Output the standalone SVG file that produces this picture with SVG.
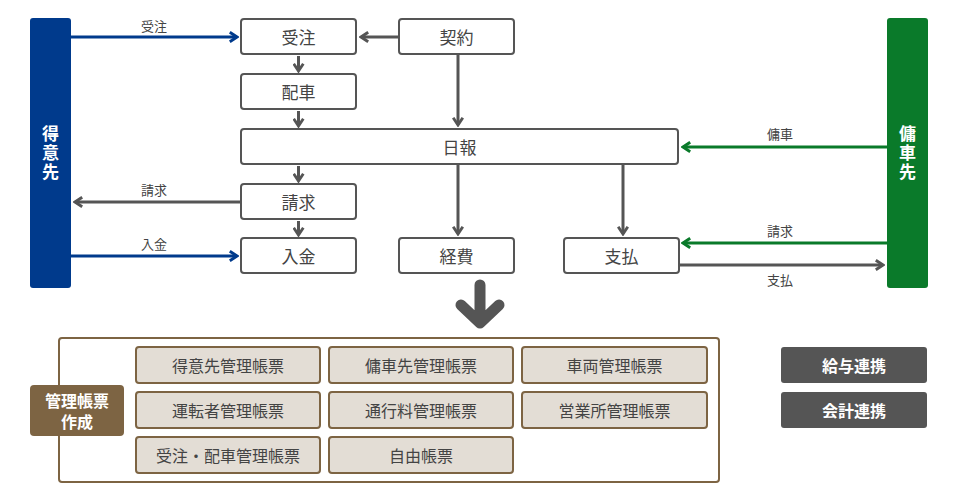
<svg xmlns="http://www.w3.org/2000/svg" width="958" height="500" viewBox="0 0 958 500">
<style>
text{font-family:"Noto Sans CJK JP","Noto Sans",sans-serif;text-anchor:middle;dominant-baseline:central}
.b{fill:#fff;stroke:#555;stroke-width:2}
.t{font-size:17px;fill:#444}
.s{font-size:13px;fill:#444}
.r{fill:#e3ddd5;stroke:#7d6443;stroke-width:2}
.rt{font-size:16px;fill:#444}
.w{fill:#fff;font-weight:bold}
.v{writing-mode:vertical-rl;letter-spacing:2px;font-size:17px}
.g{stroke:#555;stroke-width:3;fill:none}
.bl{stroke:#003a8c;stroke-width:3;fill:none}
.gr{stroke:#0a7a2a;stroke-width:3;fill:none}
</style>
<defs>
<marker id="mg" viewBox="0 0 10 10" refX="8" refY="5" markerWidth="4" markerHeight="4" orient="auto" markerUnits="strokeWidth"><path d="M2,1 L8,5 L2,9" fill="none" stroke="#555" stroke-width="2.4"/></marker>
<marker id="mb" viewBox="0 0 10 10" refX="8" refY="5" markerWidth="4" markerHeight="4" orient="auto" markerUnits="strokeWidth"><path d="M2,1 L8,5 L2,9" fill="none" stroke="#003a8c" stroke-width="2.4"/></marker>
<marker id="mr" viewBox="0 0 10 10" refX="8" refY="5" markerWidth="4" markerHeight="4" orient="auto" markerUnits="strokeWidth"><path d="M2,1 L8,5 L2,9" fill="none" stroke="#0a7a2a" stroke-width="2.4"/></marker>
</defs>
<g id="tokuisaki"><rect x="30" y="18" width="41" height="270" rx="3" fill="#003a8c"/><text class="w v" x="50.5" y="154">得意先</text></g>
<g id="yosha"><rect x="887" y="18" width="41" height="270" rx="3" fill="#0a7a2a"/><text class="w v" x="907.5" y="154">傭車先</text></g>
<g id="juchu"><rect class="b" x="241" y="19" width="115" height="35" rx="3"/><text class="t" x="298.5" y="36.5">受注</text></g>
<g id="keiyaku"><rect class="b" x="399" y="19" width="115" height="35" rx="3"/><text class="t" x="456.5" y="36.5">契約</text></g>
<g id="haisha"><rect class="b" x="241" y="74" width="115" height="35" rx="3"/><text class="t" x="298.5" y="91.5">配車</text></g>
<g id="nippo"><rect class="b" x="241" y="129" width="437" height="35" rx="3"/><text class="t" x="459.5" y="146.5">日報</text></g>
<g id="seikyu"><rect class="b" x="241" y="184" width="115" height="35" rx="3"/><text class="t" x="298.5" y="201.5">請求</text></g>
<g id="nyukin"><rect class="b" x="241" y="238" width="115" height="35" rx="3"/><text class="t" x="298.5" y="255.5">入金</text></g>
<g id="keihi"><rect class="b" x="399" y="238" width="115" height="35" rx="3"/><text class="t" x="456.5" y="255.5">経費</text></g>
<g id="shiharai"><rect class="b" x="564" y="238" width="115" height="35" rx="3"/><text class="t" x="621.5" y="255.5">支払</text></g>
<g id="connectors">
<line class="bl" x1="71" y1="37" x2="237" y2="37" marker-end="url(#mb)"/>
<line class="bl" x1="71" y1="256" x2="237" y2="256" marker-end="url(#mb)"/>
<line class="g" x1="241" y1="202" x2="75" y2="202" marker-end="url(#mg)"/>
<line class="g" x1="399" y1="37" x2="361" y2="37" stroke-width="4" marker-end="url(#mg)"/>
<line class="g" x1="298.5" y1="56" x2="298.5" y2="71" marker-end="url(#mg)"/>
<line class="g" x1="298.5" y1="111" x2="298.5" y2="126" marker-end="url(#mg)"/>
<line class="g" x1="298.5" y1="166" x2="298.5" y2="181" marker-end="url(#mg)"/>
<line class="g" x1="298.5" y1="221" x2="298.5" y2="235" marker-end="url(#mg)"/>
<line class="g" x1="458" y1="54" x2="458" y2="125" marker-end="url(#mg)"/>
<line class="g" x1="458" y1="164" x2="458" y2="234" marker-end="url(#mg)"/>
<line class="g" x1="623" y1="164" x2="623" y2="234" marker-end="url(#mg)"/>
<line class="gr" x1="887" y1="147" x2="683" y2="147" marker-end="url(#mr)"/>
<line class="gr" x1="887" y1="243" x2="683" y2="243" marker-end="url(#mr)"/>
<line class="g" x1="679" y1="265" x2="883" y2="265" marker-end="url(#mg)"/>
<text class="s" x="154" y="25">受注</text>
<text class="s" x="154" y="189">請求</text>
<text class="s" x="154" y="243">入金</text>
<text class="s" x="780" y="133">傭車</text>
<text class="s" x="780" y="230">請求</text>
<text class="s" x="780" y="279">支払</text>
<path d="M480,285 V315 M461,305 L480,323 L499,305" stroke="#555" stroke-width="11" fill="none" stroke-linecap="round" stroke-linejoin="round"/>
</g>
<g id="frame"><rect x="59" y="338" width="660" height="144" rx="3" fill="#fff" stroke="#7d6443" stroke-width="2"/></g>
<g id="kanri"><rect x="30" y="385" width="94" height="51" rx="4" fill="#7d6443"/><text class="w" x="77" y="400" font-size="16"><tspan x="77">管理帳票</tspan><tspan x="77" dy="21">作成</tspan></text></g>
<g id="r1"><rect class="r" x="136" y="347" width="184" height="36" rx="3"/><text class="rt" x="228" y="365">得意先管理帳票</text></g>
<g id="r2"><rect class="r" x="329" y="347" width="184" height="36" rx="3"/><text class="rt" x="421" y="365">傭車先管理帳票</text></g>
<g id="r3"><rect class="r" x="522" y="347" width="185" height="36" rx="3"/><text class="rt" x="614.5" y="365">車両管理帳票</text></g>
<g id="r4"><rect class="r" x="136" y="392" width="184" height="36" rx="3"/><text class="rt" x="228" y="410">運転者管理帳票</text></g>
<g id="r5"><rect class="r" x="329" y="392" width="184" height="36" rx="3"/><text class="rt" x="421" y="410">通行料管理帳票</text></g>
<g id="r6"><rect class="r" x="522" y="392" width="185" height="36" rx="3"/><text class="rt" x="614.5" y="410">営業所管理帳票</text></g>
<g id="r7"><rect class="r" x="136" y="437" width="184" height="36" rx="3"/><text class="rt" x="228" y="455">受注・配車管理帳票</text></g>
<g id="r8"><rect class="r" x="329" y="437" width="184" height="36" rx="3"/><text class="rt" x="421" y="455">自由帳票</text></g>
<g id="kyuyo"><rect x="781" y="347" width="146" height="36" rx="3" fill="#555"/><text class="w" x="854" y="365" font-size="16">給与連携</text></g>
<g id="kaikei"><rect x="781" y="392" width="146" height="36" rx="3" fill="#555"/><text class="w" x="854" y="410" font-size="16">会計連携</text></g>
</svg>
